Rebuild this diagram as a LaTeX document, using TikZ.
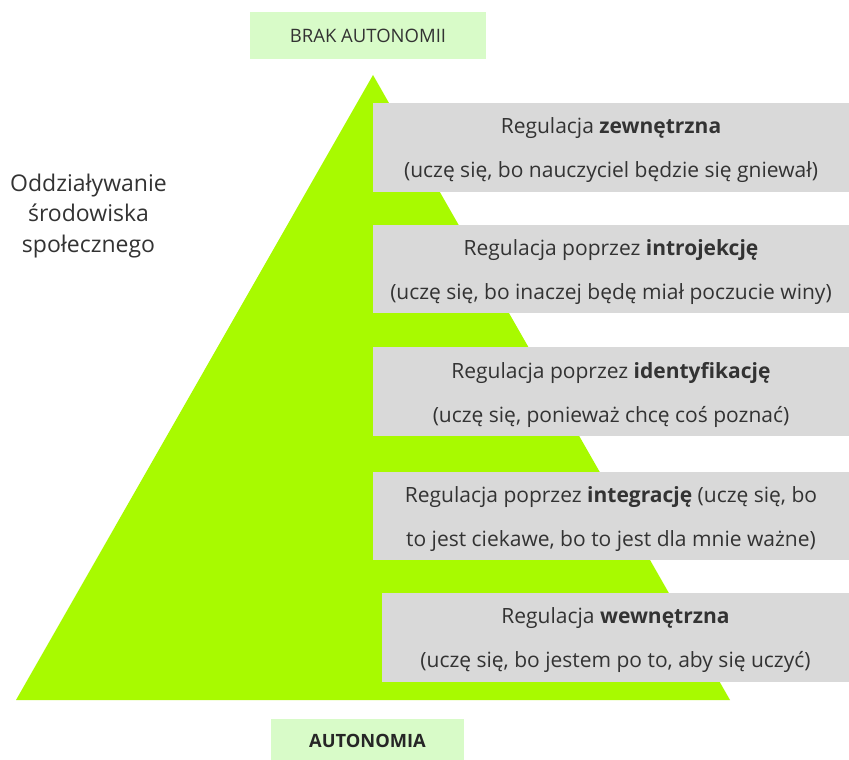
\documentclass[tikz,border=0pt]{standalone}
\usepackage{fontspec}
\setmainfont{Open Sans}
\definecolor{pyr}{HTML}{A8FA00}
\definecolor{lbl}{HTML}{D8FBC8}
\definecolor{gbox}{HTML}{D9D9D9}
\definecolor{txt}{HTML}{333333}
\begin{document}
\begin{tikzpicture}[x=1pt,y=-1pt,
  greybox/.style={fill=gbox, draw=none, inner sep=0pt},
  boxtext/.style={text=txt, align=center, inner sep=0pt,
    font=\fontsize{21}{44}\selectfont, yshift=-3pt},
  lblbox/.style={fill=lbl, draw=none, inner sep=0pt}]
\useasboundingbox (0,0) rectangle (849,760);
\fill[white] (0,0) rectangle (849,760);
% pyramid
\fill[pyr] (373,75) -- (730,700) -- (16,700) -- cycle;
% labels
\node[lblbox, minimum width=236pt, minimum height=47pt, text=txt,
  font=\fontsize{18.5}{20}\selectfont] (top) at (368,35.5) {BRAK AUTONOMII};
\node[lblbox, minimum width=193pt, minimum height=44pt, text=black!85,
  font=\fontsize{18.3}{20}\selectfont\bfseries] (bot) at (367.5,741) {AUTONOMIA};
% grey boxes
\node[greybox, minimum width=476pt, minimum height=89pt] (b1) at (611,147.5) {};
\node[boxtext] (t1) at (b1.center)
  {Regulacja \textbf{zewnętrzna}\\(uczę się, bo nauczyciel będzie się gniewał)};
\node[greybox, minimum width=476pt, minimum height=88pt] (b2) at (611,269) {};
\node[boxtext] (t2) at (b2.center)
  {Regulacja poprzez \textbf{introjekcję}\\(uczę się, bo inaczej będę miał poczucie winy)};
\node[greybox, minimum width=476pt, minimum height=89pt] (b3) at (611,391.5) {};
\node[boxtext] (t3) at (b3.center)
  {Regulacja poprzez \textbf{identyfikację}\\(uczę się, ponieważ chcę coś poznać)};
\node[greybox, minimum width=476pt, minimum height=88pt] (b4) at (611,516) {};
\node[boxtext] (t4) at (b4.center)
  {Regulacja poprzez \textbf{integrację} (uczę się, bo\\to jest ciekawe, bo to jest dla mnie ważne)};
\node[greybox, minimum width=467pt, minimum height=89pt] (b5) at (615.5,637.5) {};
\node[boxtext] (t5) at (b5.center)
  {Regulacja \textbf{wewnętrzna}\\(uczę się, bo jestem po to, aby się uczyć)};
% left text
\node[align=center, text=txt, font=\fontsize{23}{30.5}\selectfont, inner sep=0pt] (left) at (88.5,216)
  {Oddziaływanie\\środowiska\\społecznego};
\end{tikzpicture}
\end{document}
